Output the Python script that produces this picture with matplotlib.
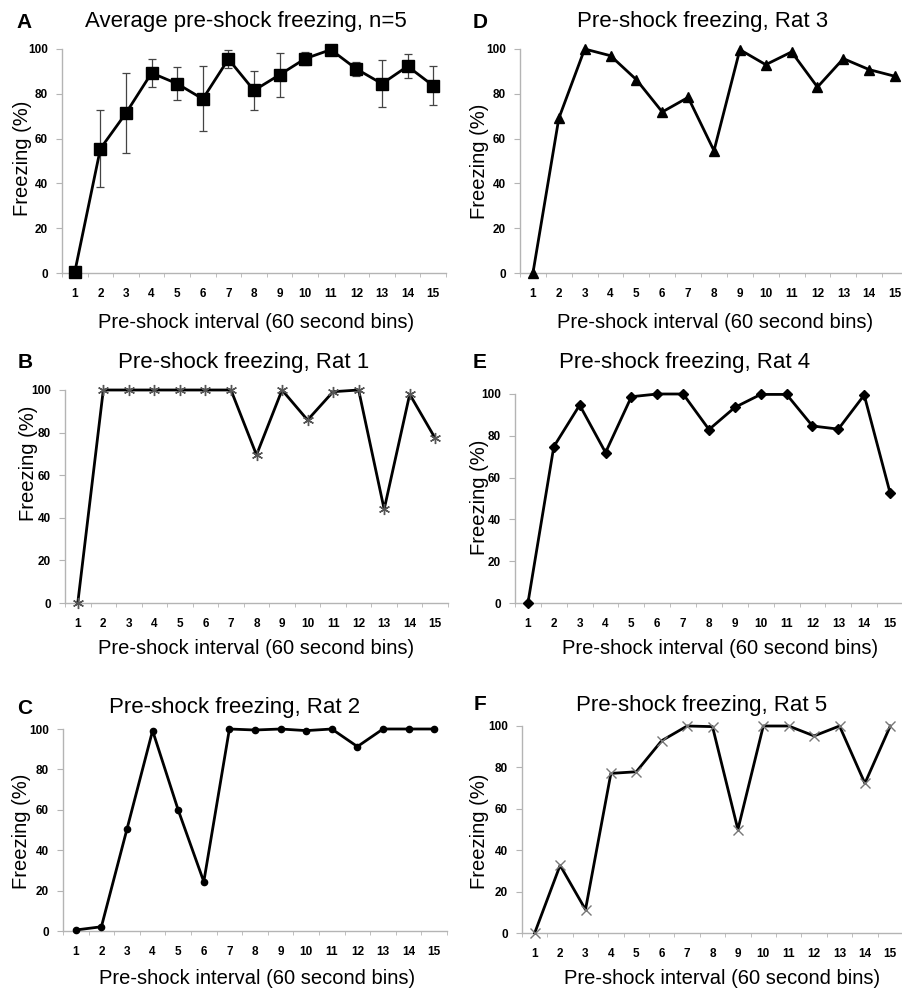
import numpy as np
import matplotlib
matplotlib.use('Agg')
import matplotlib.pyplot as plt
from matplotlib.ticker import MultipleLocator

plt.rcParams['font.family'] = ['Liberation Sans', 'DejaVu Sans']

# data
bins = list(range(1, 16))
avg_mean = [0.5, 55.5, 71.4, 89.3, 84.5, 77.7, 95.5, 81.5, 88.5, 95.7, 99.7, 91.1, 84.5, 92.3, 83.6]
avg_err = [0, 17.3, 17.7, 6.1, 7.4, 14.5, 4.2, 8.8, 9.9, 3.0, 0.5, 3.2, 10.6, 5.3, 8.7]
rat1 = [0, 100, 100, 100, 100, 100, 100, 69.5, 100, 85.9, 99.2, 100, 44, 98, 77.3]
rat2 = [0.5, 2.1, 50.5, 99.2, 59.9, 24.4, 100, 99.5, 100, 99.2, 100, 91.3, 100, 100, 100]
rat3 = [0, 69, 100, 97, 86.3, 71.9, 78.4, 54.6, 99.7, 93, 98.7, 83, 95.7, 90.8, 87.8]
rat4 = [0, 74.8, 94.7, 72, 98.7, 100, 100, 83, 93.6, 99.8, 99.8, 84.7, 83.2, 99.5, 52.7]
rat5 = [0, 32.7, 11.3, 77.1, 77.9, 92.9, 100, 99.7, 50, 100, 100, 95.2, 100, 72.3, 100]

W, H = 902, 992
fig = plt.figure(figsize=(W / 100, H / 100), dpi=100)

def px_axes(left, right, top, bottom):
    return fig.add_axes([left / W, 1 - bottom / H, (right - left) / W, (bottom - top) / H])

def fig_text(x, y, s, **kw):
    fig.text(x / W, 1 - y / H, s, ha='center', va='center', **kw)

def style(ax):
    ax.set_xlim(0.5, 15.5)
    ax.set_ylim(0, 100)
    for side in ['top', 'right']:
        ax.spines[side].set_visible(False)
    for side in ['left', 'bottom']:
        ax.spines[side].set_color('#b4b4b4')
        ax.spines[side].set_linewidth(1.0)
    ax.set_xticks(bins)
    ax.xaxis.set_minor_locator(MultipleLocator(1, offset=0.5))
    ax.yaxis.set_major_locator(MultipleLocator(20))
    ax.tick_params(axis='x', which='major', length=0, pad=11)
    ax.tick_params(axis='x', which='minor', length=3, color='#b4b4b4', direction='out')
    ax.tick_params(axis='y', length=4, color='#b4b4b4', pad=6)
    for lab in ax.get_xticklabels() + ax.get_yticklabels():
        lab.set_fontweight('bold')
        lab.set_fontsize(8.5)
    ax.patch.set_alpha(0)

panels = [
    # letter, title, box(left,right,top,bottom), title xy, letter xy, xlabel xy, ylabel xy
    ('A', 'Average pre-shock freezing, n=5', (62, 446, 49, 273), (246, 22), (24, 22), (256, 322), (23, 158)),
    ('B', 'Pre-shock freezing, Rat 1', (65, 448, 390, 603), (244, 362), (25, 362), (256, 648), (28, 463)),
    ('C', 'Pre-shock freezing, Rat 2', (63, 447, 729, 931), (235, 707), (25, 708), (257, 978), (22, 831)),
    ('D', 'Pre-shock freezing, Rat 3', (520, 908, 49, 273), (703, 22), (480, 22), (715, 322), (480, 161)),
    ('E', 'Pre-shock freezing, Rat 4', (515, 903, 394, 603), (685, 362), (480, 362), (720, 648), (480, 497)),
    ('F', 'Pre-shock freezing, Rat 5', (522, 903, 726, 933), (702, 705), (480, 705), (722, 978), (480, 831)),
]

series = {'B': rat1, 'C': rat2, 'D': rat3, 'E': rat4, 'F': rat5}
markers = {
    'B': dict(marker=(6, 2, 0), markersize=8, markeredgecolor='#555555', markeredgewidth=1.0),
    'C': dict(marker='o', markersize=4.5, markerfacecolor='black', markeredgecolor='black'),
    'D': dict(marker='^', markersize=7, markerfacecolor='black', markeredgecolor='black'),
    'E': dict(marker='D', markersize=5, markerfacecolor='black', markeredgecolor='black'),
    'F': dict(marker='x', markersize=7, markeredgecolor='#777777', markeredgewidth=1.0),
}

for letter, title, box, txy, lxy, xlxy, ylxy in panels:
    ax = px_axes(*box)
    style(ax)
    if letter == 'A':
        ax.errorbar(bins, avg_mean, yerr=avg_err, color='black', lw=2.0,
                    ecolor='#444444', elinewidth=0.9, capsize=3, capthick=0.9,
                    marker='s', markersize=8, clip_on=False, zorder=3)
    else:
        ax.plot(bins, series[letter], color='black', lw=2.0, clip_on=False,
                zorder=3, **markers[letter])
    fig_text(*txy, title, fontsize=16)
    fig_text(*lxy, letter, fontsize=15, fontweight='bold')
    fig_text(*xlxy, 'Pre-shock interval (60 second bins)', fontsize=14.5)
    fig_text(*ylxy, 'Freezing (%)', fontsize=14.5, rotation=90)

fig.savefig('out.png', dpi=100)
